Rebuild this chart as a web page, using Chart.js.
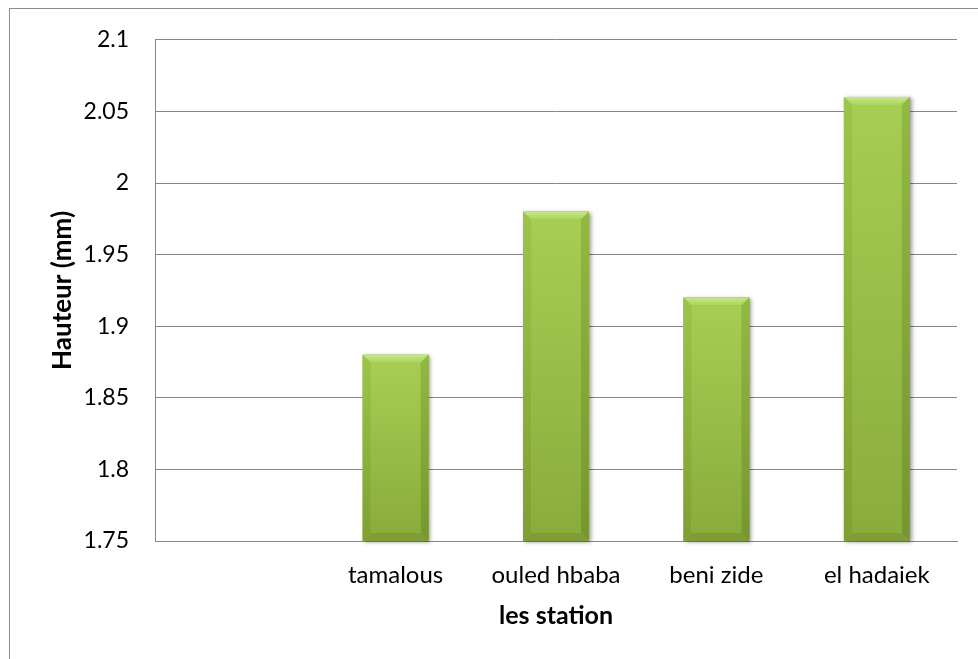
<!DOCTYPE html>
<html>
<head>
<meta charset="utf-8">
<script src="https://cdn.jsdelivr.net/npm/chart.js@4"></script>
<style>
  html, body { margin: 0; padding: 0; background: #fff; overflow: hidden; }
  #frame { position: absolute; left: 9px; top: 8px; width: 1100px; height: 800px; border: 1px solid #8c8c8c; }
  #chart { position: absolute; left: 0; top: 0; }
</style>
</head>
<body>
<div id="frame"></div>
<canvas id="chart" width="978" height="659"></canvas>
<script>
// stations (first slot is empty in the original sheet)
const stations = ['', 'tamalous', 'ouled hbaba', 'beni zide', 'el hadaiek'];
const hauteur  = [null, 1.88, 1.98, 1.92, 2.06];
const yTicks   = [1.75, 1.8, 1.85, 1.9, 1.95, 2, 2.05, 2.1];

const FONT = 'Lato, "Open Sans", sans-serif';

// Office-style bevel on each bar, drawn over the plain fill
const bevelPlugin = {
  id: 'bevel',
  afterDatasetsDraw(chart) {
    const ctx = chart.ctx;
    const area = chart.chartArea;
    chart.getDatasetMeta(0).data.forEach((bar, i) => {
      if (hauteur[i] == null) return;
      const p = bar.getProps(['x', 'y', 'base', 'width'], true);
      const l = p.x - p.width / 2, r = p.x + p.width / 2;
      const t = p.y, b = Math.min(p.base, area.bottom);
      const e = 8;
      ctx.save();
      // soft shadow
      ctx.shadowColor = 'rgba(0,0,0,0.4)';
      ctx.shadowBlur = 4;
      ctx.shadowOffsetX = 2;
      ctx.shadowOffsetY = 1;
      ctx.fillStyle = '#94ba44';
      ctx.fillRect(l, t, r - l, b - t);
      ctx.restore();

      const poly = (pts, color) => {
        ctx.beginPath();
        ctx.moveTo(pts[0][0], pts[0][1]);
        pts.slice(1).forEach(q => ctx.lineTo(q[0], q[1]));
        ctx.closePath();
        ctx.fillStyle = color;
        ctx.fill();
      };
      const side = (c1, c2) => {
        const g = ctx.createLinearGradient(0, t, 0, b);
        g.addColorStop(0, c1);
        g.addColorStop(1, c2);
        return g;
      };
      const top = ctx.createLinearGradient(0, t, 0, t + e);
      top.addColorStop(0, '#c6e886');
      top.addColorStop(1, '#aad35a');
      poly([[l, t], [r, t], [r - e, t + e], [l + e, t + e]], top);
      poly([[l, t], [l + e, t + e], [l + e, b - e], [l, b]], side('#9cc54a', '#7f9f34'));
      poly([[r, t], [r, b], [r - e, b - e], [r - e, t + e]], side('#92b942', '#76962e'));
      poly([[l, b], [l + e, b - e], [r - e, b - e], [r, b]], '#7e9e35');
      // face
      const f = ctx.createLinearGradient(0, t + e, 0, b - e);
      f.addColorStop(0, '#a6ce52');
      f.addColorStop(1, '#8aac3c');
      ctx.fillStyle = f;
      ctx.fillRect(l + e, t + e, r - l - 2 * e, b - t - 2 * e);
    });
  }
};

new Chart(document.getElementById('chart'), {
  type: 'bar',
  data: {
    labels: stations,
    datasets: [{
      label: 'Hauteur (mm)',
      data: hauteur,
      backgroundColor: '#9bc24b',
      borderWidth: 0,
      barPercentage: 0.41,
      categoryPercentage: 1
    }]
  },
  plugins: [bevelPlugin],
  options: {
    responsive: false,
    animation: false,
    layout: { padding: { left: 40, right: 21, top: 38, bottom: 28 } },
    plugins: {
      legend: { display: false },
      tooltip: { enabled: false }
    },
    scales: {
      x: {
        grid: { display: false, drawTicks: false },
        border: { display: true, color: '#868686', width: 1 },
        ticks: { color: '#000', padding: 20, font: { family: FONT, size: 24 }, maxRotation: 0 },
        title: {
          display: true,
          text: 'les station',
          color: '#000',
          font: { family: FONT, size: 25, weight: 'bold' },
          padding: { top: 0, bottom: 0 }
        },
        afterFit(scale) { scale.height = 90; }
      },
      y: {
        min: 1.75,
        max: 2.1,
        afterBuildTicks(scale) { scale.ticks = yTicks.map(v => ({ value: v })); },
        grid: { color: '#868686', lineWidth: 1, drawTicks: false },
        border: { display: true, color: '#868686', width: 1 },
        ticks: {
          color: '#000',
          padding: 26,
          font: { family: FONT, size: 23 },
          callback: v => String(+v.toFixed(2))
        },
        title: {
          display: true,
          text: 'Hauteur (mm)',
          color: '#000',
          font: { family: FONT, size: 26, weight: 'bold' },
          padding: { top: 7, bottom: 0 }
        },
        afterFit(scale) { scale.width = 115; }
      }
    }
  }
});
</script>
</body>
</html>
